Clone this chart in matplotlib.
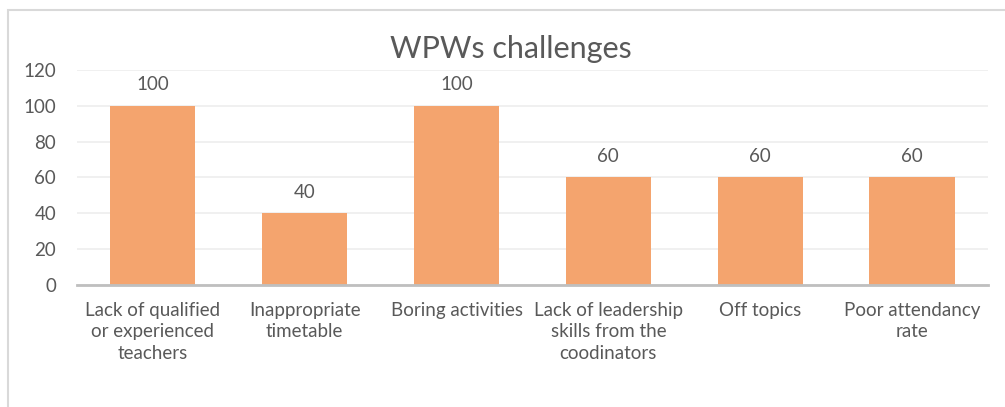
import matplotlib
matplotlib.use("Agg")
import matplotlib.pyplot as plt
from matplotlib.patches import Rectangle

# chart data
categories = ["Lack of qualified\nor experienced\nteachers", "Inappropriate\ntimetable",
              "Boring activities", "Lack of leadership\nskills from the\ncoodinators",
              "Off topics", "Poor attendancy\nrate"]
values = [100, 40, 100, 60, 60, 60]
yticks = [0, 20, 40, 60, 80, 100, 120]

plt.rcParams['font.family'] = ['Lato', 'DejaVu Sans']
txt = "#595959"

fig = plt.figure(figsize=(10.05, 4.07), dpi=100)
ax = fig.add_axes([0.0766, 0.2998, 0.9064, 0.5282])

# outer chart frame (runs off the right/bottom like the screenshot)
fig.patches.append(Rectangle((8 / 1005, -0.05), 1.1, 1 - 10 / 407 + 0.05,
                             transform=fig.transFigure, fill=False,
                             edgecolor="#D9D9D9", linewidth=1.5, clip_on=False))

x = range(len(categories))
bars = ax.bar(x, values, width=0.56, color="#F4A46E", zorder=3)
for b, v in zip(bars, values):
    ax.annotate(str(v), (b.get_x() + b.get_width() / 2, v), xytext=(0, 9),
                textcoords="offset points", ha="center", va="bottom",
                fontsize=13.5, color=txt)

ax.set_xlim(-0.5, len(categories) - 0.5)
ax.set_ylim(0, 120)
ax.set_yticks(yticks)
ax.set_xticks(list(x))
ax.set_xticklabels(categories, fontsize=13.5, color=txt, linespacing=1.33)
ax.tick_params(axis="y", labelsize=13.5, labelcolor=txt, length=0, pad=15)
ax.tick_params(axis="x", length=0, pad=12)
ax.grid(axis="y", color="#EDEDED", linewidth=1.2, zorder=0)
for s in ["top", "right", "left"]:
    ax.spines[s].set_visible(False)
ax.spines["bottom"].set_color("#BFBFBF")
ax.spines["bottom"].set_linewidth(2)
ax.spines["bottom"].set_zorder(4)

fig.text(0.508, 0.88, "WPWs challenges", ha="center", va="center",
         fontsize=22, color=txt)

fig.savefig("out.png", dpi=100)
